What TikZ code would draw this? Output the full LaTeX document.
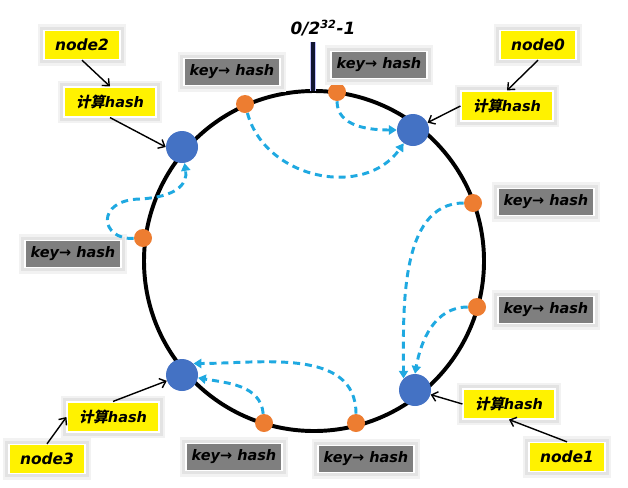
\documentclass[tikz,border=0pt]{standalone}
\usepackage{fontspec}
\setmainfont{DejaVu Sans}
\newfontfamily\cjk[FakeSlant=0.2]{Noto Sans CJK SC Bold}
\usetikzlibrary{arrows.meta}
\definecolor{keygray}{HTML}{7F7F7F}
\definecolor{serverblue}{HTML}{4472C4}
\definecolor{keyorange}{HTML}{ED7D31}
\definecolor{hashline}{HTML}{1FA9E1}
\definecolor{tickdark}{HTML}{101530}
\begin{document}
\begin{tikzpicture}[x=0.025cm, y=0.025cm,
        keybox/.style={draw=white, line width=0.8pt, fill=keygray, minimum width=2.4cm, minimum height=0.67cm, inner sep=0pt,
                preaction={draw=black!5, line width=9pt}, preaction={draw=black!11, line width=5pt},
                font=\fontsize{10.3}{12}\selectfont\bfseries\itshape},
        namebox/.style={draw=white, line width=0.8pt, fill=yellow, minimum width=1.9cm, minimum height=0.73cm, inner sep=0pt,
                preaction={draw=black!5, line width=9pt}, preaction={draw=black!11, line width=5pt},
                font=\fontsize{11}{13}\selectfont\bfseries\itshape},
        hashbox/.style={namebox, minimum width=2.3cm, minimum height=0.75cm, font=\fontsize{10.3}{12}\selectfont\bfseries\itshape},
        server/.style={circle, fill=serverblue, minimum size=0.8cm, inner sep=0pt},
        datakey/.style={circle, fill=keyorange, minimum size=0.45cm, inner sep=0pt},
        link/.style={line width=1pt, -{Straight Barb[length=4pt, width=7pt]}},
        hashto/.style={hashline, line width=2.1pt, dash pattern=on 5pt off 3.5pt, -{Triangle[length=5.5pt, width=6.5pt]}}]
        \useasboundingbox (0,0) rectangle (628,-487);

        \draw[line width=2.8pt] (314,-261) circle (170);
        \coordinate (ringtop) at (313,-91);
        \coordinate (ticktop) at (313,-42);
        \draw[tickdark, line width=2.4pt, preaction={draw=blue!25, line width=3.6pt}] (ringtop) -- (ticktop);
        \node[font=\fontsize{12}{14}\selectfont\bfseries\itshape] at (323,-28)  (zero)    {0/2\textsuperscript{32}-1};

        \node[server] at (413,-130)  (s0)    {};
        \node[server] at (415,-390)  (s1)    {};
        \node[server] at (182,-147)  (s2)    {};
        \node[server] at (182,-375)  (s3)    {};

        \node[datakey] at (337,-92)  (k0)    {};
        \node[datakey] at (245,-104)  (k1)    {};
        \node[datakey] at (143,-238)  (k2)    {};
        \node[datakey] at (473,-203)  (k3)    {};
        \node[datakey] at (477,-307)  (k4)    {};
        \node[datakey] at (264,-423)  (k5)    {};
        \node[datakey] at (356,-423)  (k6)    {};

        \node[keybox] at (379,-65)  (l0)    {key→ hash};
        \node[keybox] at (232,-72)  (l1)    {key→ hash};
        \node[keybox] at (73,-254)  (l2)    {key→ hash};
        \node[keybox] at (546,-202)  (l3)    {key→ hash};
        \node[keybox] at (546,-310)  (l4)    {key→ hash};
        \node[keybox] at (234,-457)  (l5)    {key→ hash};
        \node[keybox] at (366,-459)  (l6)    {key→ hash};

        \node[namebox] at (538,-45)  (n0)    {node0};
        \node[namebox] at (567,-457)  (n1)    {node1};
        \node[namebox] at (82,-45)  (n2)    {node2};
        \node[namebox] at (47,-459)  (n3)    {node3};

        \node[hashbox] at (507,-106)  (h0)    {{\cjk 计算}hash};
        \node[hashbox] at (509,-404)  (h1)    {{\cjk 计算}hash};
        \node[hashbox] at (110,-102)  (h2)    {{\cjk 计算}hash};
        \node[hashbox] at (113,-417)  (h3)    {{\cjk 计算}hash};

        \draw[link]  (n0.south) -- (h0.north);
        \draw[link]  (h0.west) -- (s0);
        \draw[link]  (n1.north) -- (h1.south);
        \draw[link]  (h1.west) -- (s1);
        \draw[link]  (n2.south) -- (h2.north);
        \draw[link]  (h2.south) -- (s2.west);
        \draw[link]  (n3.north) -- (h3.west);
        \draw[link]  (h3.north) -- (s3);

        \draw[hashto]  (k0) to[out=-90, in=180] (s0.west);
        \draw[hashto]  (k1) to[out=-75, in=-125, looseness=1.1] (s0);
        \draw[hashto]  (k2) .. controls (100,-240) and (95,-200) .. (140,-199) .. controls (175,-197) and (188,-185) .. (s2);
        \draw[hashto]  (k3) to[out=180, in=90, looseness=0.9] (s1.north west);
        \draw[hashto]  (k4) to[out=180, in=80] (s1.north);
        \draw[hashto]  (k5) to[out=95, in=-10] (s3);
        \draw[hashto]  (k6) to[out=90, in=0] (s3.north east);
      \end{tikzpicture}
\end{document}
